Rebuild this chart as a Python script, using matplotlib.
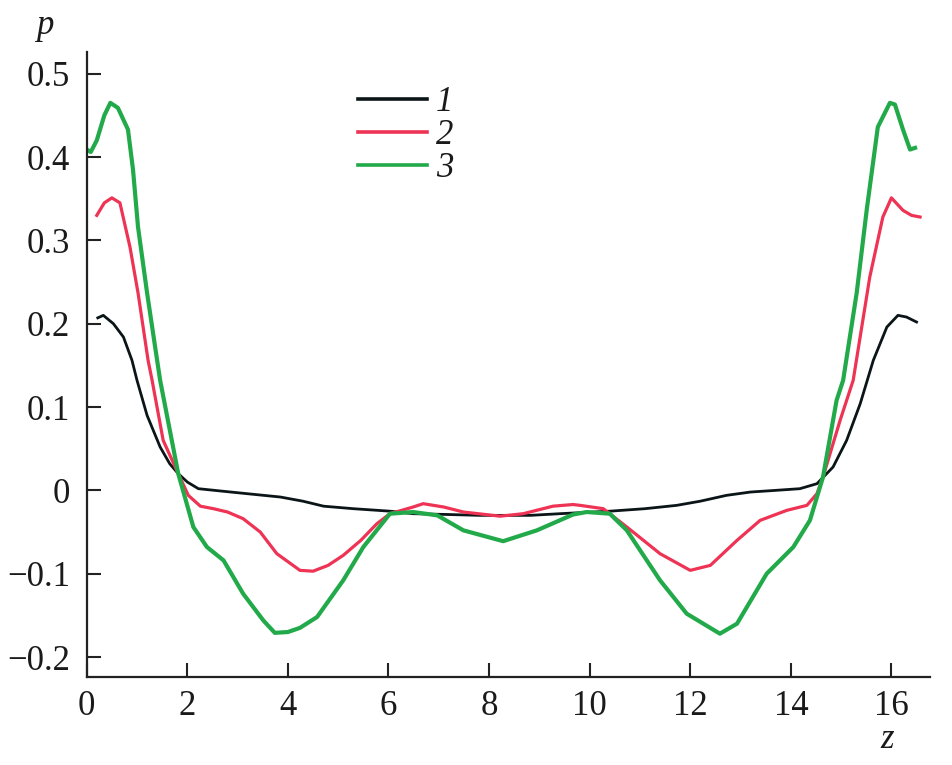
import matplotlib
matplotlib.use("Agg")
import matplotlib.pyplot as plt

# ---------------------------------------------------------------------------
# data
# ---------------------------------------------------------------------------
z1 = [0.22, 0.33, 0.53, 0.73, 0.9, 1.0, 1.2, 1.46, 1.65, 1.82, 2.0, 2.22, 2.7, 3.19,
      3.85, 4.3, 4.71, 5.3, 6.03, 6.49, 7.2, 7.82, 8.3, 8.82, 9.41, 10.4, 11.1, 11.73,
      12.2, 12.72, 13.2, 13.7, 14.18, 14.52, 14.84, 15.11, 15.38, 15.64, 15.91, 16.13,
      16.3, 16.5]
p1 = [0.207, 0.21, 0.2, 0.184, 0.156, 0.132, 0.09, 0.052, 0.032, 0.02, 0.01, 0.002,
      -0.001, -0.004, -0.008, -0.013, -0.019, -0.022, -0.025, -0.028, -0.029, -0.030,
      -0.030, -0.030, -0.028, -0.025, -0.022, -0.018, -0.013, -0.006, -0.002, 0.0,
      0.002, 0.008, 0.028, 0.06, 0.104, 0.156, 0.196, 0.21, 0.208, 0.202]

z2 = [0.2, 0.35, 0.5, 0.66, 0.86, 1.02, 1.22, 1.3, 1.52, 1.82, 2.02, 2.26, 2.52, 2.8,
      3.11, 3.45, 3.78, 4.24, 4.5, 4.8, 5.1, 5.45, 5.77, 6.03, 6.49, 6.69, 7.1, 7.49,
      8.22, 8.68, 9.27, 9.67, 9.81, 10.27, 10.74, 11.4, 12.0, 12.4, 12.93, 13.39, 13.92,
      14.32, 14.52, 14.64, 14.98, 15.24, 15.57, 15.83, 16.0, 16.23, 16.4, 16.57]
p2 = [0.33, 0.345, 0.351, 0.345, 0.292, 0.237, 0.156, 0.132, 0.06, 0.02, -0.006, -0.019,
      -0.022, -0.026, -0.034, -0.05, -0.076, -0.096, -0.097, -0.09, -0.078, -0.06, -0.04,
      -0.028, -0.020, -0.016, -0.02, -0.026, -0.031, -0.028, -0.019, -0.017, -0.018,
      -0.022, -0.044, -0.076, -0.096, -0.09, -0.06, -0.036, -0.024, -0.018, -0.004,
      0.016, 0.084, 0.132, 0.256, 0.328, 0.351, 0.336, 0.33, 0.328]

z3 = [0.0, 0.08, 0.2, 0.35, 0.47, 0.62, 0.82, 0.92, 1.02, 1.2, 1.4, 1.46, 1.82, 2.12,
      2.39, 2.72, 3.11, 3.51, 3.74, 4.0, 4.24, 4.58, 5.1, 5.5, 6.03, 6.49, 6.97, 7.49,
      8.28, 8.95, 9.67, 9.94, 10.4, 10.74, 11.4, 11.93, 12.59, 12.93, 13.52, 14.05,
      14.38, 14.64, 14.91, 15.04, 15.31, 15.51, 15.73, 15.97, 16.07, 16.23, 16.37, 16.47]
p3 = [0.409, 0.406, 0.42, 0.45, 0.465, 0.459, 0.433, 0.385, 0.316, 0.237, 0.156, 0.132,
      0.02, -0.044, -0.068, -0.084, -0.124, -0.156, -0.171, -0.170, -0.165, -0.152,
      -0.108, -0.068, -0.028, -0.026, -0.03, -0.048, -0.061, -0.048, -0.029, -0.026,
      -0.028, -0.048, -0.108, -0.148, -0.172, -0.16, -0.1, -0.068, -0.036, 0.016, 0.108,
      0.132, 0.237, 0.337, 0.436, 0.465, 0.463, 0.433, 0.409, 0.411]

series_labels = ["1", "2", "3"]
x_ticks = [0, 2, 4, 6, 8, 10, 12, 14, 16]
y_ticks = [-0.2, -0.1, 0, 0.1, 0.2, 0.3, 0.4, 0.5]
y_tick_labels = ["\u22120.2", "\u22120.1", "0", "0.1", "0.2", "0.3", "0.4", "0.5"]

# ---------------------------------------------------------------------------
# figure
# ---------------------------------------------------------------------------
plt.rcParams["font.family"] = ["Liberation Serif", "DejaVu Serif"]
FS = 25

fig = plt.figure(figsize=(9.53, 7.65), dpi=100)
ax = fig.add_axes([0.091, 0.115, 0.885, 0.817])

ax.plot(z1, p1, color="#0b1518", lw=2.0, label=series_labels[0])
ax.plot(z2, p2, color="#ee3355", lw=2.3, label=series_labels[1])
ax.plot(z3, p3, color="#22aa4a", lw=3.0, label=series_labels[2])

ax.set_xlim(0, 16.77)
ax.set_ylim(-0.224, 0.526)
ax.set_xticks(x_ticks)
ax.set_xticklabels([str(t) for t in x_ticks])
ax.set_yticks(y_ticks)
ax.set_yticklabels(y_tick_labels)

for side in ("top", "right"):
    ax.spines[side].set_visible(False)
for side in ("left", "bottom"):
    ax.spines[side].set_linewidth(1.6)
    ax.spines[side].set_color("#222222")

ax.tick_params(direction="in", length=10, width=1.5, colors="#222222",
               labelsize=FS, labelcolor="#1a1a1a")
ax.tick_params(axis="y", pad=12)
ax.tick_params(axis="x", pad=9)

fig.text(45 / 953, 1 - 25 / 765, "p", fontsize=FS, style="italic",
         ha="center", va="center", color="#1a1a1a")
fig.text(887 / 953, 1 - 740 / 765, "z", fontsize=FS, style="italic",
         ha="center", va="center", color="#1a1a1a")

leg = ax.legend(loc="upper left", bbox_to_anchor=(358 / 953, 1 - 86 / 765),
                bbox_transform=fig.transFigure, frameon=False, fontsize=FS,
                handlelength=2.0, handletextpad=0.25, labelspacing=0.0,
                borderpad=0, borderaxespad=0)
for t in leg.get_texts():
    t.set_fontstyle("italic")
    t.set_color("#1a1a1a")
for h in leg.get_lines():
    h.set_linewidth(2.6)

fig.savefig("out.png", dpi=100)
